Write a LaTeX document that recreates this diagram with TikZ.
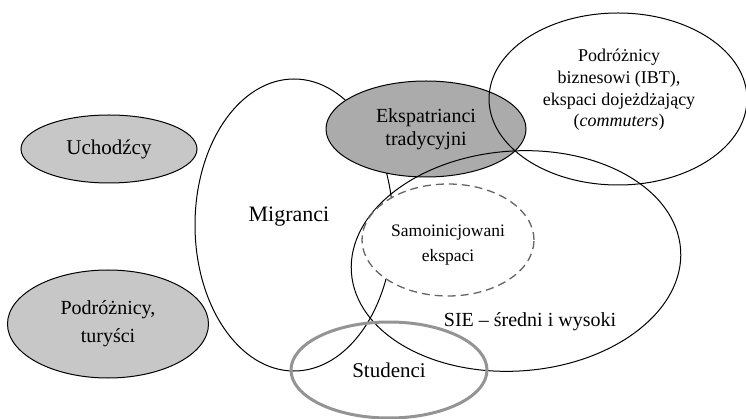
\documentclass[tikz,border=0pt]{standalone}
\usepackage{fontspec}
\setmainfont{Liberation Serif}
\usetikzlibrary{shapes.geometric}

\definecolor{lightset}{gray}{0.78}
\definecolor{darkset}{gray}{0.67}

\begin{document}
\begin{tikzpicture}[x=1pt,y=-1pt]
\tikzstyle{set}=[shape=ellipse,draw=black,line width=1pt,inner sep=0pt,align=center,font=\fontsize{20}{23}\selectfont];
\tikzstyle{lbl}=[inner sep=0pt,align=center,font=\fontsize{20}{23}\selectfont];
\useasboundingbox (0,0) rectangle (746,419);
% groups on the left
\node[set,fill=lightset,minimum width=176,minimum height=68,font=\fontsize{21}{24}\selectfont] (uch) at (109,149) {Uchodźcy};
\node[set,fill=lightset,minimum width=201,minimum height=108,font=\fontsize{20}{28}\selectfont] (tur) at (108,324) {Podróżnicy,\\turyści};
% overlapping sets
\node[set,fill=white,minimum width=198,minimum height=292] (mig) at (294,225) {};
\node[lbl,font=\fontsize{22}{26}\selectfont] (migtxt) at (289,217) {Migranci};
\node[set,fill=darkset,minimum width=200,minimum height=96] (eks) at (426,129) {Ekspatrianci\\tradycyjni};
\node[set,minimum width=330,minimum height=220,rotate=4] (sie) at (516,261) {};
\node[lbl] (sietxt) at (530,322) {SIE -- średni i wysoki};
\node[set,minimum width=258,minimum height=172] (ibt) at (618,99) {};
\node[lbl,font=\fontsize{18}{21.7}\selectfont] (ibttxt) at (619,90) {Podróżnicy\\biznesowi (IBT),\\ekspaci dojeżdżający\\(\textit{commuters})};
\node[set,fill=white,draw=black!60,line width=1.3pt,dash pattern=on 8pt off 5pt,minimum width=172,minimum height=112] (samo) at (448,240) {};
\node[lbl,font=\fontsize{17.5}{25}\selectfont] (samotxt) at (448,245) {Samoinicjowani\\ekspaci};
\node[set,draw=black!42,line width=3pt,minimum width=196,minimum height=96,font=\fontsize{21}{24}\selectfont] (stu) at (389,370) {Studenci};
\end{tikzpicture}
\end{document}
